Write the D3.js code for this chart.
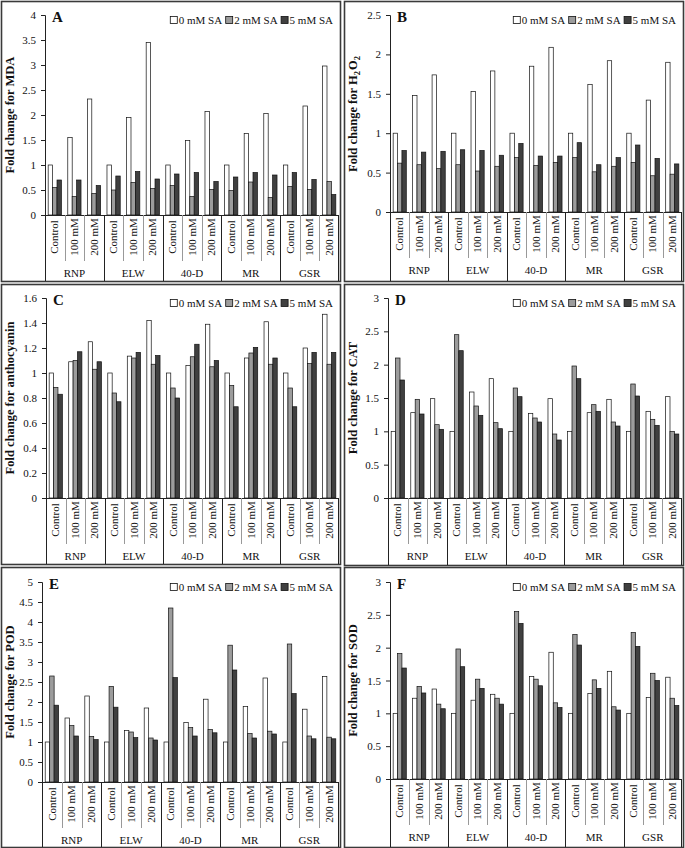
<!DOCTYPE html>
<html><head><meta charset="utf-8">
<script src="https://cdn.jsdelivr.net/npm/d3@7"></script>
<style>
body{margin:0;background:#fff;}
svg text{font-family:"Liberation Serif","Times New Roman",serif;fill:#111;}
</style></head>
<body><svg id="chart" width="685" height="848"></svg>
<script>
const groups = ["RNP","ELW","40-D","MR","GSR"];
const treatments = ["Control","100 mM","200 mM"];
const seriesNames = ["0 mM SA","2 mM SA","5 mM SA"];
const seriesColors = ["#ffffff","#9c9c9c","#404040"];

// values listed per group, treatment: [0 mM, 2 mM, 5 mM]
const mdaValues = [
  [1.00,0.55,0.70],[1.55,0.37,0.70],[2.32,0.43,0.59],
  [1.00,0.50,0.78],[1.95,0.65,0.87],[3.45,0.53,0.72],
  [1.00,0.59,0.82],[1.49,0.37,0.85],[2.07,0.51,0.67],
  [1.00,0.49,0.76],[1.63,0.66,0.85],[2.03,0.35,0.80],
  [1.00,0.57,0.85],[2.18,0.51,0.71],[2.98,0.67,0.41]];
const h2o2Values = [
  [1.00,0.62,0.78],[1.48,0.60,0.76],[1.74,0.55,0.77],
  [1.00,0.60,0.79],[1.53,0.52,0.78],[1.79,0.58,0.72],
  [1.00,0.69,0.87],[1.85,0.59,0.71],[2.09,0.63,0.71],
  [1.00,0.69,0.88],[1.62,0.51,0.60],[1.92,0.58,0.69],
  [1.00,0.63,0.85],[1.42,0.46,0.68],[1.90,0.48,0.61]];
const anthoValues = [
  [1.00,0.885,0.83],[1.09,1.10,1.17],[1.25,1.03,1.09],
  [1.00,0.84,0.77],[1.135,1.12,1.165],[1.42,1.07,1.14],
  [1.00,0.88,0.80],[1.06,1.13,1.23],[1.39,1.05,1.10],
  [1.00,0.90,0.73],[1.12,1.16,1.205],[1.41,1.07,1.12],
  [1.00,0.88,0.73],[1.20,1.075,1.165],[1.47,1.07,1.165]];
const catValues = [
  [1.00,2.10,1.77],[1.28,1.48,1.26],[1.49,1.10,1.03],
  [1.00,2.45,2.21],[1.59,1.38,1.24],[1.79,1.13,1.04],
  [1.00,1.65,1.52],[1.27,1.20,1.14],[1.49,0.96,0.87],
  [1.00,1.98,1.79],[1.28,1.40,1.30],[1.48,1.14,1.08],
  [1.00,1.71,1.53],[1.30,1.18,1.09],[1.52,1.00,0.96]];
const podValues = [
  [1.00,2.65,1.92],[1.60,1.41,1.15],[2.15,1.14,1.06],
  [1.00,2.39,1.87],[1.29,1.25,1.11],[1.85,1.10,1.05],
  [1.00,4.35,2.61],[1.49,1.36,1.15],[2.07,1.31,1.23],
  [1.00,3.42,2.80],[1.89,1.21,1.10],[2.60,1.27,1.20],
  [1.00,3.45,2.21],[1.82,1.15,1.08],[2.64,1.12,1.08]];
const sodValues = [
  [1.00,1.91,1.69],[1.23,1.41,1.31],[1.37,1.14,1.07],
  [1.00,1.98,1.71],[1.20,1.52,1.38],[1.29,1.23,1.14],
  [1.00,2.55,2.37],[1.56,1.52,1.42],[1.93,1.16,1.09],
  [1.00,2.20,2.04],[1.30,1.51,1.38],[1.64,1.10,1.05],
  [1.00,2.23,2.02],[1.24,1.61,1.50],[1.55,1.23,1.12]];

const mdaTicks = [0,0.5,1,1.5,2,2.5,3,3.5,4];
const h2o2Ticks = [0,0.5,1,1.5,2,2.5];
const anthoTicks = [0,0.2,0.4,0.6,0.8,1,1.2,1.4,1.6];
const catTicks = [0,0.5,1,1.5,2,2.5,3];
const podTicks = [0,0.5,1,1.5,2,2.5,3,3.5,4,4.5,5];
const sodTicks = [0,0.5,1,1.5,2,2.5,3];

const panels = [
  {letter:"A", title:["Fold change for MDA"], values:mdaValues, ticks:mdaTicks,
   box:[1,1,339,280], axisX:45, top:15, zero:215, right:339},
  {letter:"B", title:["Fold change for H",["2"],"O",["2"]], values:h2o2Values, ticks:h2o2Ticks,
   box:[344,1,339,280], axisX:390, top:15, zero:212, right:682},
  {letter:"C", title:["Fold change for anthocyanin"], values:anthoValues, ticks:anthoTicks,
   box:[1,284,339,280], axisX:46, top:298, zero:498, right:339},
  {letter:"D", title:["Fold change for CAT"], values:catValues, ticks:catTicks,
   box:[344,284,339,281], axisX:388, top:298, zero:498, right:682},
  {letter:"E", title:["Fold change for POD"], values:podValues, ticks:podTicks,
   box:[1,567,339,280], axisX:42, top:582, zero:782, right:339},
  {letter:"F", title:["Fold change for SOD"], values:sodValues, ticks:sodTicks,
   box:[344,567,339,280], axisX:390, top:582, zero:779, right:682}
];

const svg = d3.select("#chart");
const cats = [];
groups.forEach(g => treatments.forEach(t => cats.push(g + "|" + t)));

panels.forEach(p => {
  const [bx,by,bw,bh] = p.box;
  const g = svg.append("g");
  // frame
  g.append("rect").attr("x",bx+0.5).attr("y",by+0.5).attr("width",bw).attr("height",bh)
    .attr("fill","none").attr("stroke","#3a3a3a").attr("stroke-width",1.6);

  const x = d3.scaleBand().domain(cats).range([p.axisX, p.right]).padding(0);
  const xs = d3.scaleBand().domain(seriesNames).range([0, x.bandwidth()]).paddingInner(0).paddingOuter(0.72);
  const ymax = p.ticks[p.ticks.length-1];
  const y = d3.scaleLinear().domain([0, ymax]).range([p.zero, p.top]);

  // bars
  cats.forEach((c,i) => {
    const vals = p.values[i];
    g.selectAll(null).data(vals).enter().append("rect")
      .attr("x",(d,j) => x(c) + xs(seriesNames[j]))
      .attr("y",d => y(d))
      .attr("width",xs.bandwidth())
      .attr("height",d => y(0) - y(d))
      .attr("fill",(d,j) => seriesColors[j])
      .attr("stroke","#111").attr("stroke-width",0.7);
  });

  // y axis
  const yAxis = d3.axisLeft(y).tickValues(p.ticks).tickSize(4).tickPadding(5)
    .tickFormat(d => String(+d.toFixed(2)));
  const ya = g.append("g").attr("transform",`translate(${p.axisX},0)`).call(yAxis);
  ya.select(".domain").attr("stroke","#222").attr("d",`M-4,${p.top+0.5}H0.5V${p.zero}`);
  ya.selectAll(".tick line").attr("stroke","#222");
  ya.selectAll("text").attr("font-size",11).attr("font-family","Liberation Serif").attr("fill","#111");

  // x axis baseline
  g.append("line").attr("x1",p.axisX).attr("x2",p.right).attr("y1",p.zero+0.5).attr("y2",p.zero+0.5)
    .attr("stroke","#222").attr("stroke-width",1);

  // separators
  cats.forEach((c,i) => {
    const xx = Math.round(x(c)) + 0.5;
    const isGroup = i % 3 === 0;
    g.append("line").attr("x1",xx).attr("x2",xx).attr("y1",p.zero)
      .attr("y2", isGroup ? by + bh : p.zero + 46)
      .attr("stroke", isGroup ? "#222" : "#999").attr("stroke-width",1);
  });
  g.append("line").attr("x1",p.right-0.5).attr("x2",p.right-0.5).attr("y1",p.zero).attr("y2",by+bh)
    .attr("stroke","#222");

  // inner category labels
  cats.forEach(c => {
    const t = c.split("|")[1];
    const cx = x(c) + x.bandwidth()/2;
    const cy = p.zero + 22;
    g.append("text").attr("transform",`translate(${cx},${cy}) rotate(-90)`)
      .attr("text-anchor","middle").attr("dy","0.33em").attr("font-size",11).text(t);
  });
  // group labels
  groups.forEach((gr,k) => {
    const x0 = x(gr + "|Control"), x1 = x(gr + "|200 mM") + x.bandwidth();
    g.append("text").attr("x",(x0+x1)/2).attr("y",p.zero + 62).attr("text-anchor","middle")
      .attr("font-size",11).text(gr);
  });

  // y title
  const tt = g.append("text").attr("transform",`translate(${bx+13},${(p.top+p.zero)/2}) rotate(-90)`)
    .attr("text-anchor","middle").attr("font-size",12.5).attr("font-weight","bold");
  p.title.forEach(part => {
    if (Array.isArray(part)) {
      tt.append("tspan").attr("font-size",8.5).attr("dy",3).text(part[0]);
      tt.append("tspan").attr("dy",-3).text("\u200a");
    } else {
      tt.append("tspan").text(part);
    }
  });

  // panel letter
  g.append("text").attr("x",p.axisX + 7).attr("y",p.top + 7).attr("font-size",15)
    .attr("font-weight","bold").text(p.letter);

  // legend
  const lg = g.append("g");
  let lx = 0;
  seriesNames.forEach((s,j) => {
    lg.append("rect").attr("x",lx+0.5).attr("y",-7.5).attr("width",7).attr("height",7)
      .attr("fill",seriesColors[j]).attr("stroke","#111").attr("stroke-width",0.8);
    const t = lg.append("text").attr("x",lx+9).attr("y",0).attr("font-size",11).text(s);
    lx += 9 + t.node().getComputedTextLength() + 3;
  });
  lg.attr("transform",`translate(${p.right - 6 - (lx-3)},${p.top + 9})`);
});
</script></body></html>
